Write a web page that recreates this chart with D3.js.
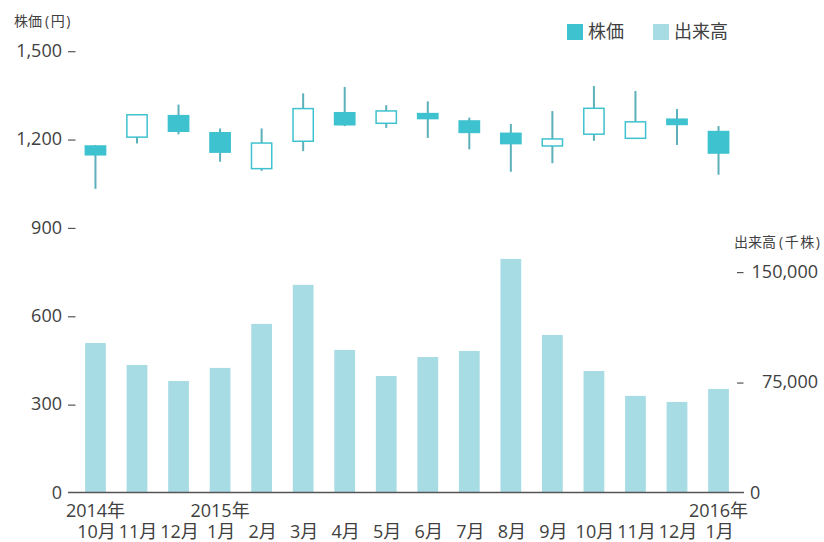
<!DOCTYPE html>
<html>
<head>
<meta charset="utf-8">
<script src="https://cdn.jsdelivr.net/npm/d3@7"></script>
<style>
  html, body { margin: 0; padding: 0; background: #fff; }
  svg { display: block; font-family: "Open Sans", "Noto Sans CJK JP", sans-serif; }
</style>
</head>
<body>
<svg id="chart" width="824" height="542"></svg>
<script>
// ---- data ----
const categories = ["2014-10","2014-11","2014-12","2015-01","2015-02","2015-03","2015-04","2015-05",
                    "2015-06","2015-07","2015-08","2015-09","2015-10","2015-11","2015-12","2016-01"];
const monthLabels = ["10月","11月","12月","1月","2月","3月","4月","5月","6月","7月","8月","9月","10月","11月","12月","1月"];
const yearLabels  = ["2014年","","","2015年","","","","","","","","","","","","2016年"];
const open   = [1179, 1204, 1282, 1224, 1097, 1190, 1292, 1251, 1289, 1264, 1222, 1174, 1214, 1200, 1270, 1228];
const close  = [1144, 1285, 1224, 1153, 1189, 1306, 1246, 1298, 1267, 1220, 1182, 1203, 1307, 1261, 1247, 1150];
const high   = [1180, 1285, 1317, 1236, 1236, 1355, 1377, 1315, 1328, 1273, 1251, 1295, 1380, 1363, 1302, 1244];
const low    = [1031, 1185, 1216, 1123, 1092, 1159, 1244, 1238, 1204, 1165, 1089, 1118, 1194, 1200, 1180, 1079];
const volume = [101500, 86600, 75700, 84600, 114500, 141000, 96800, 79100, 92000, 96100, 158600, 107000, 82500, 65600, 61500, 70300];
const priceTicks  = [0, 300, 600, 900, 1200, 1500];
const volumeTicks = [0, 75000, 150000];
const priceTitle  = ["株価", "(円)"];
const volumeTitle = ["出来高", "(千株)"];
const legendNames = ["株価", "出来高"];

// ---- styling ----
const C_PRICE = "#3fc2cf";
const C_WICK  = "#5cb0ba";
const C_VOL   = "#a8dce4";
const C_TEXT  = "#404040";
const C_AXIS  = "#555";

const svg = d3.select("#chart");
const rows = categories.map((c, i) => ({c, i, o: open[i], h: high[i], l: low[i], cl: close[i], v: volume[i]}));

const x = d3.scaleBand().domain(categories).range([74.7, 739.3]).paddingInner(0.5).paddingOuter(0.25);
const yP = d3.scaleLinear().domain([0, 1500]).range([492.5, 50.7]);
const yV = d3.scaleLinear().domain([0, 300000]).range([492.5, 50.7]);
const bw = x.bandwidth();
const cx = c => x(c) + bw / 2;

// volume bars
svg.append("g").selectAll("rect").data(rows).join("rect")
  .attr("x", d => x(d.c)).attr("width", bw)
  .attr("y", d => yV(d.v)).attr("height", d => yV(0) - yV(d.v))
  .attr("fill", C_VOL);

// baseline
svg.append("line").attr("x1", 68).attr("x2", 744).attr("y1", yP(0)).attr("y2", yP(0))
  .attr("stroke", C_AXIS).attr("stroke-width", 1.3);

// candles
const cg = svg.append("g");
cg.selectAll("line").data(rows).join("line")
  .attr("x1", d => cx(d.c)).attr("x2", d => cx(d.c))
  .attr("y1", d => yP(d.h)).attr("y2", d => yP(d.l))
  .attr("stroke", C_WICK).attr("stroke-width", 2);
cg.selectAll("rect").data(rows).join("rect")
  .attr("x", d => cx(d.c) - (bw + 1) / 2 + (d.cl > d.o ? 0.75 : 0))
  .attr("width", d => bw + 1 - (d.cl > d.o ? 1.5 : 0))
  .attr("y", d => yP(Math.max(d.o, d.cl)) + (d.cl > d.o ? 0.75 : 0))
  .attr("height", d => Math.abs(yP(d.o) - yP(d.cl)) - (d.cl > d.o ? 1.5 : 0))
  .attr("fill", d => d.cl > d.o ? "#fff" : C_PRICE)
  .attr("stroke", d => d.cl > d.o ? C_PRICE : "none")
  .attr("stroke-width", 1.5);

// left axis ticks
const lg = svg.append("g");
lg.selectAll("text").data(priceTicks).join("text")
  .attr("x", 62).attr("y", d => yP(d)).attr("dy", "0.35em")
  .attr("text-anchor", "end").attr("font-size", 18).attr("fill", C_TEXT)
  .text(d => d3.format(",")(d));
lg.selectAll("line").data(priceTicks.filter(d => d > 0)).join("line")
  .attr("x1", 68).attr("x2", 75.5).attr("y1", d => yP(d) + 1).attr("y2", d => yP(d) + 1)
  .attr("stroke", C_AXIS).attr("stroke-width", 1.2);

// right axis ticks
const rg = svg.append("g");
rg.selectAll("text").data(volumeTicks).join("text")
  .attr("x", d => d === 0 ? 750 : 818).attr("y", d => yV(d)).attr("dy", "0.35em")
  .attr("text-anchor", d => d === 0 ? "start" : "end").attr("font-size", 18).attr("fill", C_TEXT)
  .text(d => d3.format(",")(d));
rg.selectAll("line").data(volumeTicks.filter(d => d > 0)).join("line")
  .attr("x1", 737).attr("x2", 743.5).attr("y1", d => yV(d) + 1).attr("y2", d => yV(d) + 1)
  .attr("stroke", C_AXIS).attr("stroke-width", 1.2);

// axis titles
function title(parts, tx, ty) {
  const t = svg.append("text").attr("x", tx).attr("y", ty).attr("dy", "0.35em")
    .attr("font-size", 14).attr("fill", C_TEXT);
  t.append("tspan").text(parts[0]);
  t.append("tspan").attr("dx", 3).attr("letter-spacing", 1.5).text(parts[1]);
}
title(priceTitle, 14, 21);
title(volumeTitle, 734, 242);

// x labels
const xg = svg.append("g").attr("font-size", 18).attr("fill", C_TEXT).attr("text-anchor", "middle");
xg.selectAll("text.yr").data(rows.filter(d => yearLabels[d.i])).join("text").attr("class", "yr")
  .attr("x", d => cx(d.c)).attr("y", 510.5).attr("dy", "0.35em").text(d => yearLabels[d.i]);
xg.selectAll("text.mo").data(rows).join("text").attr("class", "mo")
  .attr("x", d => cx(d.c) + 1).attr("y", 531.5).attr("dy", "0.35em").text(d => monthLabels[d.i]);

// legend
const legItems = [{name: legendNames[0], color: C_PRICE, x: 567}, {name: legendNames[1], color: C_VOL, x: 653}];
const leg = svg.append("g");
leg.selectAll("rect").data(legItems).join("rect")
  .attr("x", d => d.x).attr("y", 24).attr("width", 16).attr("height", 16).attr("fill", d => d.color);
leg.selectAll("text").data(legItems).join("text")
  .attr("x", d => d.x + 21).attr("y", 32).attr("dy", "0.35em")
  .attr("font-size", 18).attr("fill", C_TEXT).text(d => d.name);
</script>
</body>
</html>
